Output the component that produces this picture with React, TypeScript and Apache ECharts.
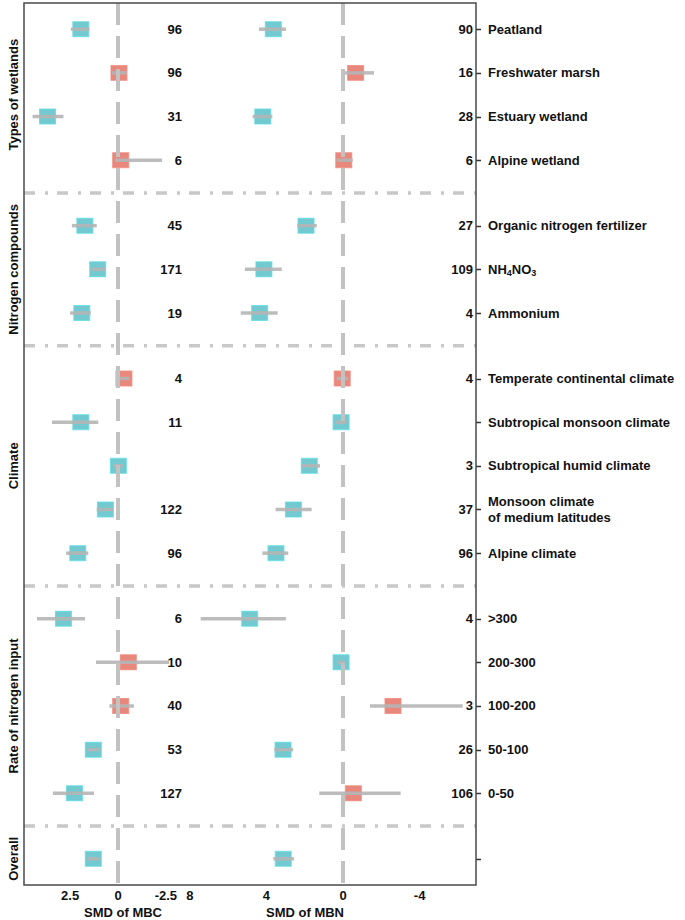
import React, { useEffect, useRef } from 'react';
import * as echarts from 'echarts';

// ---------- data ----------
const GROUPS = ['Types of wetlands', 'Nitrogen compounds', 'Climate', 'Rate of nitrogen input', 'Overall'];
const GROUP_SIZES = [4, 3, 5, 5, 1];
const CATEGORIES = [
  'Peatland', 'Freshwater marsh', 'Estuary wetland', 'Alpine wetland',
  'Organic nitrogen fertilizer', 'NH4NO3', 'Ammonium',
  'Temperate continental climate', 'Subtropical monsoon climate', 'Subtropical humid climate',
  'Monsoon climate\nof medium latitudes', 'Alpine climate',
  '>300', '200-300', '100-200', '50-100', '0-50',
  '',
];

const MBC_MEAN = [1.94, -0.05, 3.68, -0.14, 1.73, 1.06, 1.89, -0.31, 1.94, -0.02, 0.66, 2.1, 2.85, -0.54, -0.14, 1.29, 2.27, 1.29];
const MBC_LOW = [1.49, -0.45, 2.85, -2.3, 1.11, 0.63, 1.42, -0.6, 1.03, -0.26, 0.24, 1.55, 1.72, -2.67, -0.83, 0.94, 1.25, 0.94];
const MBC_HIGH = [2.46, 0.33, 4.46, 0.16, 2.41, 1.42, 2.5, 0.0, 3.45, 0.25, 1.11, 2.71, 4.23, 1.15, 0.45, 1.6, 3.4, 1.6];
const MBC_N = [96, 96, 31, 6, 45, 171, 19, 4, 11, null, 122, 96, 6, 10, 40, 53, 127, null];
const MBC_CLASS = ['t', 'r', 't', 'r', 't', 't', 't', 'r', 't', 't', 't', 't', 't', 'r', 'r', 't', 't', 't'];

const MBN_MEAN = [3.64, -0.66, 4.19, -0.04, 1.93, 4.13, 4.35, 0.04, 0.1, 1.76, 2.59, 3.5, 4.87, 0.1, -2.61, 3.13, -0.54, 3.12];
const MBN_LOW = [2.98, -1.62, 3.69, -0.51, 1.37, 3.2, 3.41, -0.27, -0.2, 1.2, 1.64, 2.86, 2.98, -0.1, -6.25, 2.6, -3.01, 2.56];
const MBN_HIGH = [4.39, -0.02, 4.72, 0.33, 2.39, 5.12, 5.34, 0.33, 0.4, 2.16, 3.52, 4.21, 7.43, 0.3, -1.41, 3.59, 1.24, 3.64];
const MBN_N = [90, 16, 28, 6, 27, 109, 4, 4, null, 3, 37, 96, 4, null, 3, 26, 106, null];
const MBN_CLASS = ['t', 'r', 't', 'r', 't', 't', 't', 'r', 't', 't', 't', 't', 't', 't', 'r', 't', 'r', 't'];

const MBC_TICKS = [2.5, 0, -2.5];
const MBN_TICKS = [8, 4, 0, -4];

// ---------- style / layout ----------
const FONT = 'Liberation Sans, Arial, Helvetica, sans-serif';
const TEXT = '#111111';
const FRAME = '#4a4a4a';
const COLORS: Record<string, { fill: string; border: string }> = {
  t: { fill: '#4fbcc3', border: '#62dde6' },
  r: { fill: '#e2695b', border: '#f28a7d' },
};
const LEFT = 24;
const TOP = 3;
const SPLIT = 184;
const RIGHT = 476;
const BOTTOM = 885;
const PX_PER_UNIT = 19.15;
const MBC_ZERO_PX = 118;
const MBN_ZERO_PX = 343;
const Y_MIN = -0.6;
const Y_MAX = 19.6;

// row positions derived from the group structure
const ROW_Y: number[] = [];
const GROUP_OF: number[] = [];
(() => {
  let idx = 0;
  GROUP_SIZES.forEach((n, g) => {
    for (let i = 0; i < n; i++) {
      ROW_Y.push(idx + g * 0.5);
      GROUP_OF.push(g);
      idx++;
    }
  });
})();

const rowIndexOf = (v: number) => ROW_Y.findIndex((y) => Math.abs(y - v) < 1e-6);

const labelText = (name: string) => {
  if (name === 'NH4NO3') return '{b|NH}{s|4}{b|NO}{s|3}';
  return name
    .split('\n')
    .map((l) => `{b|${l}}`)
    .join('\n');
};

export default function App() {
  const ref = useRef<HTMLDivElement>(null);
  useEffect(() => {
    if (!ref.current) return;
    const chart = echarts.init(ref.current, undefined, { renderer: 'svg' });

    const mbcMin = -(SPLIT - MBC_ZERO_PX) / PX_PER_UNIT;
    const mbcMax = (MBC_ZERO_PX - LEFT) / PX_PER_UNIT;
    const mbnMin = -(RIGHT - MBN_ZERO_PX) / PX_PER_UNIT;
    const mbnMax = (MBN_ZERO_PX - SPLIT) / PX_PER_UNIT;

    const baseY = {
      type: 'value' as const,
      inverse: true,
      min: Y_MIN,
      max: Y_MAX,
      position: 'right' as const,
      axisLine: { show: false, onZero: false },
      splitLine: { show: false },
      axisTick: { show: false },
    };

    const countAxis = (gridIndex: number, counts: (number | null)[], margin: number) => ({
      ...baseY,
      gridIndex,
      axisLabel: {
        inside: true,
        margin,
        customValues: ROW_Y.filter((_, i) => counts[i] != null),
        formatter: (v: number) => {
          const i = rowIndexOf(v);
          return i >= 0 && counts[i] != null ? String(counts[i]) : '';
        },
        color: TEXT,
        fontFamily: FONT,
        fontWeight: 'bold',
        fontSize: 13,
      },
    });

    const xAxisBase = (gridIndex: number, min: number, max: number, ticks: number[]) => ({
      type: 'value' as const,
      gridIndex,
      position: 'bottom' as const,
      inverse: true,
      min,
      max,
      axisLine: { show: false, onZero: false },
      axisTick: { show: false },
      splitLine: { show: false },
      axisLabel: {
        customValues: ticks,
        margin: 4,
        color: TEXT,
        fontFamily: FONT,
        fontWeight: 'bold',
        fontSize: 13,
        showMinLabel: true,
        showMaxLabel: true,
      },
    });

    const zeroLine = {
      silent: true,
      symbol: 'none',
      label: { show: false },
      lineStyle: { color: '#c2c2c2', width: 4, type: [22, 11] as any },
      data: [{ xAxis: 0 }],
    };

    const squares = (gridIndex: number, mean: number[], cls: string[]) => ({
      type: 'scatter',
      xAxisIndex: gridIndex,
      yAxisIndex: gridIndex === 0 ? 0 : 1,
      symbol: 'rect',
      symbolSize: [16, 15],
      z: 2,
      data: mean.map((m, i) => ({
        value: [m, ROW_Y[i]],
        itemStyle: { color: COLORS[cls[i]].fill, borderColor: COLORS[cls[i]].border, borderWidth: 1 },
      })),
    });

    const bars = (gridIndex: number, lo: number[], hi: number[]) => ({
      type: 'custom',
      xAxisIndex: gridIndex,
      yAxisIndex: gridIndex === 0 ? 0 : 1,
      z: 3,
      clip: false,
      encode: { x: [0, 1], y: 2 },
      data: lo.map((l, i) => [l, hi[i], ROW_Y[i]]),
      renderItem: (_p: any, api: any) => {
        const y = api.value(2);
        const a = api.coord([api.value(0), y]);
        const b = api.coord([api.value(1), y]);
        return {
          type: 'line',
          shape: { x1: a[0], y1: a[1], x2: b[0], y2: b[1] },
          style: { stroke: '#b5b5b5', lineWidth: 3.5, opacity: 0.9 },
        };
      },
      markLine: zeroLine,
    });

    chart.setOption({
      animation: false,
      backgroundColor: '#ffffff',
      grid: [
        { left: LEFT, top: TOP, width: SPLIT - LEFT, height: BOTTOM - TOP },
        { left: SPLIT, top: TOP, width: RIGHT - SPLIT, height: BOTTOM - TOP },
      ],
      xAxis: [xAxisBase(0, mbcMin, mbcMax, MBC_TICKS), xAxisBase(1, mbnMin, mbnMax, MBN_TICKS)],
      yAxis: [
        countAxis(0, MBC_N, 2),
        {
          ...baseY,
          gridIndex: 1,
          axisLabel: {
            margin: 12,
            align: 'left',
            customValues: ROW_Y,
            formatter: (v: number) => {
              const i = rowIndexOf(v);
              return i >= 0 && CATEGORIES[i] ? labelText(CATEGORIES[i]) : '';
            },
            rich: {
              b: { fontFamily: FONT, fontWeight: 'bold', fontSize: 13, color: TEXT, lineHeight: 16 },
              s: { fontFamily: FONT, fontWeight: 'bold', fontSize: 9, color: TEXT, padding: [7, 0, 0, 0], lineHeight: 16 },
            },
          },
        },
        countAxis(1, MBN_N, 3),
      ],
      series: [
        squares(0, MBC_MEAN, MBC_CLASS),
        bars(0, MBC_LOW, MBC_HIGH),
        squares(1, MBN_MEAN, MBN_CLASS),
        bars(1, MBN_LOW, MBN_HIGH),
      ],
    });

    const py = (v: number) => chart.convertToPixel({ yAxisIndex: 0 }, v) as number;
    const graphics: any[] = [];
    // separators between groups
    GROUP_SIZES.forEach((_, g) => {
      if (g === GROUP_SIZES.length - 1) return;
      const rows = ROW_Y.filter((_, i) => GROUP_OF[i] === g);
      const y = py(rows[rows.length - 1] + 0.75);
      graphics.push({
        type: 'line',
        silent: true,
        z: 1,
        shape: { x1: LEFT, y1: y, x2: RIGHT, y2: y },
        style: { stroke: '#c8c8c8', lineWidth: 3.5, lineDash: [11, 10, 3, 9] },
      });
    });
    // right-hand ticks at every row
    ROW_Y.forEach((v) => {
      const y = Math.round(py(v)) + 0.5;
      graphics.push({
        type: 'line',
        silent: true,
        z: 10,
        shape: { x1: RIGHT, y1: y, x2: RIGHT + 5, y2: y },
        style: { stroke: '#333333', lineWidth: 1.5 },
      });
    });
    // group labels
    GROUPS.forEach((name, g) => {
      const rows = ROW_Y.filter((_, i) => GROUP_OF[i] === g);
      const y = (py(rows[0]) + py(rows[rows.length - 1])) / 2;
      graphics.push({
        type: 'text',
        x: 13,
        y,
        rotation: Math.PI / 2,
        style: {
          text: name,
          fontFamily: FONT,
          fontWeight: 'bold',
          fontSize: 13,
          fill: TEXT,
          align: 'center',
          verticalAlign: 'middle',
        },
      });
    });
    // frame
    graphics.push({
      type: 'rect',
      silent: true,
      z: 10,
      shape: { x: LEFT, y: TOP, width: RIGHT - LEFT, height: BOTTOM - TOP },
      style: { fill: 'none', stroke: FRAME, lineWidth: 1.5 },
    });
    // axis titles
    [
      { text: 'SMD of MBC', x: 123 },
      { text: 'SMD of MBN', x: 305 },
    ].forEach((t) =>
      graphics.push({
        type: 'text',
        x: t.x,
        y: 912,
        style: {
          text: t.text,
          fontFamily: FONT,
          fontWeight: 'bold',
          fontSize: 13,
          fill: TEXT,
          align: 'center',
          verticalAlign: 'middle',
        },
      })
    );
    chart.setOption({ graphic: graphics });

    return () => chart.dispose();
  }, []);

  return (
    <div
      ref={ref}
      style={{ position: 'fixed', left: 0, top: 0, width: 685, height: 920, background: '#fff' }}
    />
  );
}
